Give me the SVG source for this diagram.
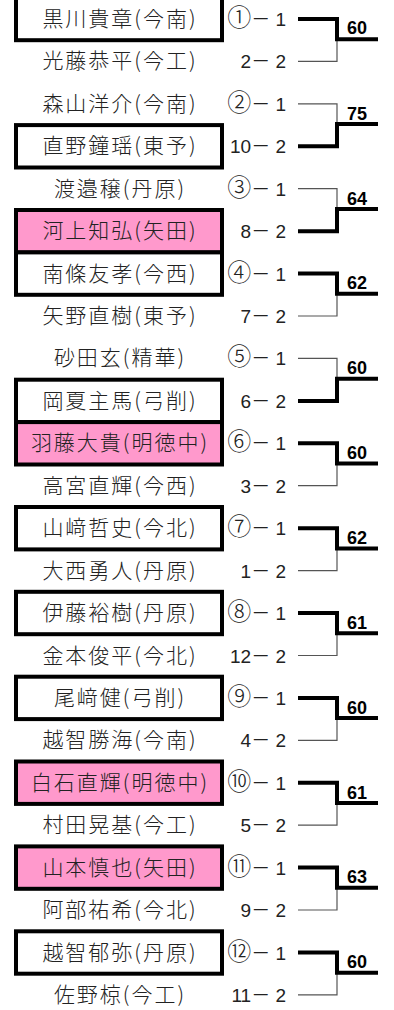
<svg xmlns="http://www.w3.org/2000/svg" width="394" height="1010" viewBox="0 0 394 1010">
<style>
.bg{fill:#ffffff}
.box{fill:#ffffff;stroke:#000000;stroke-width:4}
.pink{fill:#ff99cc}
.name{font-family:"Noto Sans CJK JP","Noto Sans CJK SC",sans-serif;font-size:21px;font-weight:300;letter-spacing:2px;fill:#222222;text-anchor:middle}
.seed{font-family:"Liberation Sans","Noto Sans CJK JP",sans-serif;font-size:19px;fill:#222222;text-anchor:end}
.c{font-family:"Noto Sans CJK JP",sans-serif;font-size:24px;font-weight:300}
.score{font-family:"Liberation Sans",Arial,sans-serif;font-size:18px;font-weight:bold;fill:#000000;text-anchor:middle}
.thick{fill:none;stroke:#000000;stroke-width:4;stroke-linejoin:miter}
.thin{fill:none;stroke:#555555;stroke-width:1.2}
</style>
<rect class="bg" x="0" y="0" width="394" height="1010"/>
<g id="boxes">
<rect id="box-r1" class="box" x="16" y="-2.2" width="206" height="42.4"/>
<rect id="box-r4" class="box" x="16" y="125.1" width="206" height="42.4"/>
<rect id="box-r6" class="box pink" x="16" y="210" width="206" height="42.4"/>
<rect id="box-r7" class="box" x="16" y="252.4" width="206" height="42.4"/>
<rect id="box-r10" class="box" x="16" y="379.7" width="206" height="42.4"/>
<rect id="box-r11" class="box pink" x="16" y="422.1" width="206" height="42.4"/>
<rect id="box-r13" class="box" x="16" y="507" width="206" height="42.4"/>
<rect id="box-r15" class="box" x="16" y="591.8" width="206" height="42.4"/>
<rect id="box-r17" class="box" x="16" y="676.7" width="206" height="42.4"/>
<rect id="box-r19" class="box pink" x="16" y="761.5" width="206" height="42.4"/>
<rect id="box-r21" class="box pink" x="16" y="846.4" width="206" height="42.4"/>
<rect id="box-r23" class="box" x="16" y="931.3" width="206" height="42.4"/>
</g>
<g id="names">
<text id="n1" class="name" x="120" y="26">黒川貴章(今南)</text>
<text id="n2" class="name" x="120" y="68.4">光藤恭平(今工)</text>
<text id="n3" class="name" x="120" y="110.9">森山洋介(今南)</text>
<text id="n4" class="name" x="120" y="153.3">直野鐘瑶(東予)</text>
<text id="n5" class="name" x="120" y="195.7">渡邉穣(丹原)</text>
<text id="n6" class="name" x="120" y="238.2">河上知弘(矢田)</text>
<text id="n7" class="name" x="120" y="280.6">南條友孝(今西)</text>
<text id="n8" class="name" x="120" y="323">矢野直樹(東予)</text>
<text id="n9" class="name" x="120" y="365.4">砂田玄(精華)</text>
<text id="n10" class="name" x="120" y="407.9">岡夏主馬(弓削)</text>
<text id="n11" class="name" x="120" y="450.3">羽藤大貴(明徳中)</text>
<text id="n12" class="name" x="120" y="492.7">高宮直輝(今西)</text>
<text id="n13" class="name" x="120" y="535.2">山﨑哲史(今北)</text>
<text id="n14" class="name" x="120" y="577.6">大西勇人(丹原)</text>
<text id="n15" class="name" x="120" y="620">伊藤裕樹(丹原)</text>
<text id="n16" class="name" x="120" y="662.5">金本俊平(今北)</text>
<text id="n17" class="name" x="120" y="704.9">尾﨑健(弓削)</text>
<text id="n18" class="name" x="120" y="747.3">越智勝海(今南)</text>
<text id="n19" class="name" x="120" y="789.7">白石直輝(明徳中)</text>
<text id="n20" class="name" x="120" y="832.2">村田晃基(今工)</text>
<text id="n21" class="name" x="120" y="874.6">山本慎也(矢田)</text>
<text id="n22" class="name" x="120" y="917">阿部祐希(今北)</text>
<text id="n23" class="name" x="120" y="959.5">越智郁弥(丹原)</text>
<text id="n24" class="name" x="120" y="1001.9">佐野椋(今工)</text>
</g>
<g id="seeds">
<text class="seed" x="286" y="26"><tspan class="c">①</tspan>－ 1</text>
<text class="seed" x="286" y="68.4">2－ 2</text>
<text class="seed" x="286" y="110.9"><tspan class="c">②</tspan>－ 1</text>
<text class="seed" x="286" y="153.3">10－ 2</text>
<text class="seed" x="286" y="195.7"><tspan class="c">③</tspan>－ 1</text>
<text class="seed" x="286" y="238.2">8－ 2</text>
<text class="seed" x="286" y="280.6"><tspan class="c">④</tspan>－ 1</text>
<text class="seed" x="286" y="323">7－ 2</text>
<text class="seed" x="286" y="365.4"><tspan class="c">⑤</tspan>－ 1</text>
<text class="seed" x="286" y="407.9">6－ 2</text>
<text class="seed" x="286" y="450.3"><tspan class="c">⑥</tspan>－ 1</text>
<text class="seed" x="286" y="492.7">3－ 2</text>
<text class="seed" x="286" y="535.2"><tspan class="c">⑦</tspan>－ 1</text>
<text class="seed" x="286" y="577.6">1－ 2</text>
<text class="seed" x="286" y="620"><tspan class="c">⑧</tspan>－ 1</text>
<text class="seed" x="286" y="662.5">12－ 2</text>
<text class="seed" x="286" y="704.9"><tspan class="c">⑨</tspan>－ 1</text>
<text class="seed" x="286" y="747.3">4－ 2</text>
<text class="seed" x="286" y="789.7"><tspan class="c">⑩</tspan>－ 1</text>
<text class="seed" x="286" y="832.2">5－ 2</text>
<text class="seed" x="286" y="874.6"><tspan class="c">⑪</tspan>－ 1</text>
<text class="seed" x="286" y="917">9－ 2</text>
<text class="seed" x="286" y="959.5"><tspan class="c">⑫</tspan>－ 1</text>
<text class="seed" x="286" y="1001.9">11－ 2</text>
</g>
<g id="connectors">
<path class="thin" d="M298,61.4H337V39.2"/>
<path class="thick" d="M298,19H337V39.2H378"/>
<path class="thin" d="M298,103.9H337V124.1"/>
<path class="thick" d="M298,146.3H337V124.1H378"/>
<path class="thin" d="M298,188.7H337V209"/>
<path class="thick" d="M298,231.2H337V209H378"/>
<path class="thin" d="M298,316H337V293.8"/>
<path class="thick" d="M298,273.6H337V293.8H378"/>
<path class="thin" d="M298,358.4H337V378.7"/>
<path class="thick" d="M298,400.9H337V378.7H378"/>
<path class="thin" d="M298,485.7H337V463.5"/>
<path class="thick" d="M298,443.3H337V463.5H378"/>
<path class="thin" d="M298,570.6H337V548.4"/>
<path class="thick" d="M298,528.2H337V548.4H378"/>
<path class="thin" d="M298,655.5H337V633.3"/>
<path class="thick" d="M298,613H337V633.3H378"/>
<path class="thin" d="M298,740.3H337V718.1"/>
<path class="thick" d="M298,697.9H337V718.1H378"/>
<path class="thin" d="M298,825.2H337V803"/>
<path class="thick" d="M298,782.7H337V803H378"/>
<path class="thin" d="M298,910H337V887.8"/>
<path class="thick" d="M298,867.6H337V887.8H378"/>
<path class="thin" d="M298,994.9H337V972.7"/>
<path class="thick" d="M298,952.5H337V972.7H378"/>
</g>
<g id="scores">
<text class="score" x="357" y="34">60</text>
<text class="score" x="357" y="119.5">75</text>
<text class="score" x="357" y="204.5">64</text>
<text class="score" x="357" y="289.3">62</text>
<text class="score" x="357" y="374.2">60</text>
<text class="score" x="357" y="459">60</text>
<text class="score" x="357" y="543.9">62</text>
<text class="score" x="357" y="628.8">61</text>
<text class="score" x="357" y="713.6">60</text>
<text class="score" x="357" y="798.5">61</text>
<text class="score" x="357" y="883.3">63</text>
<text class="score" x="357" y="968.2">60</text>
</g>
</svg>
